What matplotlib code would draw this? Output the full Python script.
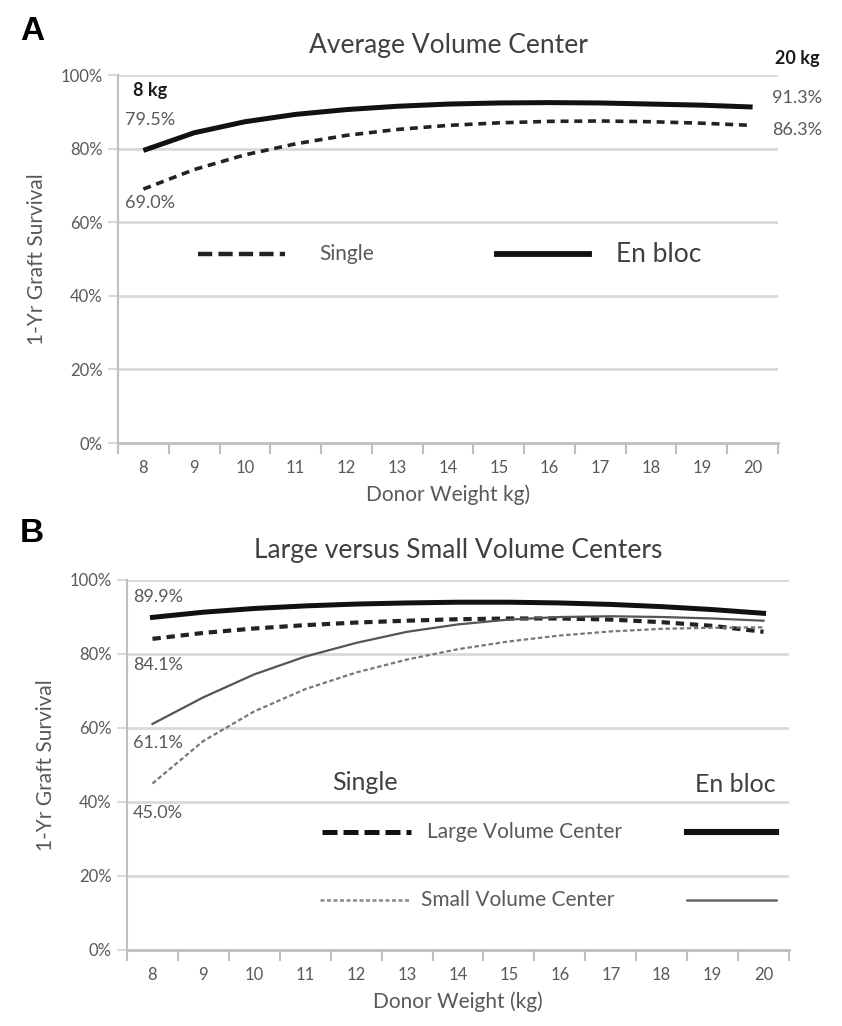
import matplotlib
matplotlib.use("Agg")
import matplotlib.pyplot as plt
from matplotlib.lines import Line2D

plt.rcParams['font.family'] = ['Lato', 'DejaVu Sans']

# ---- data ----
weights = [8, 9, 10, 11, 12, 13, 14, 15, 16, 17, 18, 19, 20]
y_ticks = [0, 20, 40, 60, 80, 100]
y_tick_labels = ['0%', '20%', '40%', '60%', '80%', '100%']

# Panel A: average volume center
avg_enbloc = [79.5, 84.3, 87.3, 89.3, 90.6, 91.5, 92.1, 92.4, 92.5, 92.4, 92.1, 91.8, 91.3]
avg_single = [69.0, 74.3, 78.3, 81.3, 83.6, 85.2, 86.3, 87.0, 87.4, 87.5, 87.3, 86.9, 86.3]

# Panel B: large vs small volume centers
large_enbloc = [89.9, 91.3, 92.3, 93.0, 93.5, 93.8, 94.0, 94.0, 93.8, 93.4, 92.8, 92.0, 91.0]
large_single = [84.1, 85.7, 86.9, 87.8, 88.5, 89.0, 89.4, 89.6, 89.6, 89.3, 88.6, 87.6, 86.0]
small_enbloc = [61.1, 68.3, 74.5, 79.3, 83.0, 86.0, 88.0, 89.3, 90.0, 90.2, 90.0, 89.6, 89.0]
small_single = [45.0, 56.5, 64.5, 70.5, 75.0, 78.5, 81.3, 83.4, 85.0, 86.1, 86.8, 87.1, 87.2]

TXT = '#595959'
GRID = '#d9d9d9'
AXC = '#bfbfbf'

fig = plt.figure(figsize=(8.42, 10.26), dpi=100)
axA = fig.add_axes([118/842, 1-443/1026, 660/842, 368/1026])
axB = fig.add_axes([127/842, 1-950/1026, 662/842, 370/1026])


def style(ax, title, xlabel):
    ax.set_xlim(7.5, 20.5)
    ax.set_ylim(0, 100)
    ax.set_yticks(y_ticks)
    ax.set_yticklabels(y_tick_labels)
    ax.set_xticks(weights)
    ax.set_xticklabels([str(w) for w in weights])
    ax.set_xticks([w - 0.5 for w in weights] + [20.5], minor=True)
    ax.tick_params(axis='x', which='major', length=0, pad=12, labelsize=12, labelcolor=TXT)
    ax.tick_params(axis='x', which='minor', length=8, width=1.5, color=AXC, direction='out')
    ax.tick_params(axis='y', length=7, width=1.5, color=GRID, pad=4, labelsize=12, labelcolor=TXT)
    for y in y_ticks[1:]:
        ax.axhline(y, color=GRID, lw=2, zorder=0)
    for s in ['top', 'right']:
        ax.spines[s].set_visible(False)
    ax.spines['left'].set_color(AXC)
    ax.spines['left'].set_linewidth(1.5)
    ax.spines['bottom'].set_color(AXC)
    ax.spines['bottom'].set_linewidth(2)
    ax.set_title(title, fontsize=19, color='#404040', pad=16)
    ax.set_xlabel(xlabel, fontsize=15, color=TXT, labelpad=6)
    ax.set_ylabel('1-Yr Graft Survival', fontsize=15, color=TXT, labelpad=10)


style(axA, 'Average Volume Center', 'Donor Weight kg)')
style(axB, 'Large versus Small Volume Centers', 'Donor Weight (kg)')

# ---- Panel A lines ----
axA.plot(weights, avg_enbloc, color='#111111', lw=3.6, solid_capstyle='butt')
axA.plot(weights, avg_single, color='#222222', lw=2.6, dashes=(2.2, 1.6))

# Panel A annotations
ta = axA.transAxes
axA.text(15/660, (443-90)/368, '8 kg', transform=ta, fontsize=13, fontweight='bold', color='#1a1a1a', va='center', ha='left')
axA.text(7/660, (443-120)/368, f'{avg_enbloc[0]:.1f}%', transform=ta, fontsize=13, color=TXT, va='center', ha='left')
axA.text(7/660, (443-203)/368, f'{avg_single[0]:.1f}%', transform=ta, fontsize=13, color=TXT, va='center', ha='left')
axA.text(657/660, (443-58)/368, '20 kg', transform=ta, fontsize=13, fontweight='bold', color='#1a1a1a', va='center', ha='left', clip_on=False)
axA.text(654/660, (443-98)/368, f'{avg_enbloc[-1]:.1f}%', transform=ta, fontsize=13, color=TXT, va='center', ha='left', clip_on=False)
axA.text(654/660, (443-130)/368, f'{avg_single[-1]:.1f}%', transform=ta, fontsize=13, color=TXT, va='center', ha='left', clip_on=False)

# Panel A legend
ly = (443-254)/368
axA.add_line(Line2D([0.121, 0.253], [ly, ly], transform=ta, color='#222222', lw=3.2, dashes=(3.2, 1.4)))
axA.text(0.305, ly, 'Single', transform=ta, fontsize=15, color=TXT, va='center', ha='left')
axA.add_line(Line2D([0.574, 0.714], [ly, ly], transform=ta, color='#111111', lw=4.2))
axA.text(0.755, ly, 'En bloc', transform=ta, fontsize=19, color='#404040', va='center', ha='left')

# ---- Panel B lines ----
axB.plot(weights, large_enbloc, color='#111111', lw=3.6)
axB.plot(weights, large_single, color='#222222', lw=3.0, dashes=(2.0, 1.4))
axB.plot(weights, small_enbloc, color='#555555', lw=1.6)
axB.plot(weights, small_single, color='#777777', lw=1.6, dashes=(2.0, 1.2))

tb = axB.transAxes
for lbl_y, val in [(597, large_enbloc[0]), (665, large_single[0]), (743, small_enbloc[0]), (813, small_single[0])]:
    axB.text(6/662, (950-lbl_y)/370, f'{val:.1f}%', transform=tb, fontsize=13, color=TXT, va='center', ha='left')

# Panel B legend
axB.text(0.36, (950-782)/370, 'Single', transform=tb, fontsize=18, color='#404040', va='center', ha='center')
axB.text(0.98, (950-785)/370, 'En bloc', transform=tb, fontsize=18, color='#404040', va='center', ha='right')
r1 = (950-832)/370
axB.add_line(Line2D([0.295, 0.429], [r1, r1], transform=tb, color='#111111', lw=3.6, dashes=(3.0, 1.2)))
axB.text(0.453, r1, 'Large Volume Center', transform=tb, fontsize=15, color=TXT, va='center', ha='left')
axB.add_line(Line2D([0.846, 0.98], [r1, r1], transform=tb, color='#111111', lw=4.4))
r2 = (950-900)/370
axB.add_line(Line2D([0.292, 0.429], [r2, r2], transform=tb, color='#888888', lw=1.8, dashes=(1.6, 1.0)))
axB.text(0.444, r2, 'Small Volume Center', transform=tb, fontsize=15, color=TXT, va='center', ha='left')
axB.add_line(Line2D([0.846, 0.98], [r2, r2], transform=tb, color='#666666', lw=1.8))

# Panel letters
fig.text(32/842, 1-32/1026, 'A', fontsize=24, fontweight='bold', family='Liberation Sans', ha='center', va='center')
fig.text(32/842, 1-533/1026, 'B', fontsize=24, fontweight='bold', family='Liberation Sans', ha='center', va='center')

fig.savefig('out.png', dpi=100, facecolor='white')
